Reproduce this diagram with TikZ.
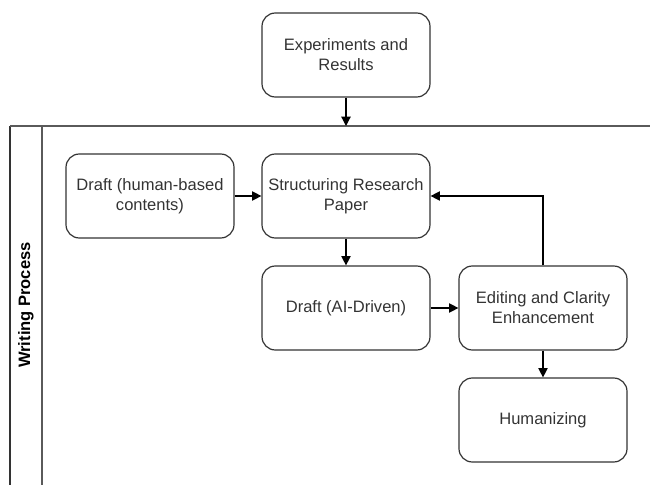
\documentclass[tikz,border=0pt]{standalone}
\usepackage{fontspec}
\setmainfont{Liberation Sans}
\usetikzlibrary{arrows.meta}

\definecolor{boxline}{RGB}{51,51,51}
\definecolor{laneline}{RGB}{90,90,90}

\tikzset{
	stepbox/.style={draw=boxline, rounded corners=10pt, line width=0.9pt, minimum width=126pt, minimum height=63pt, align=center, inner sep=2pt, text=boxline, font=\fontsize{12.4}{15}\selectfont},
	flow/.style={draw=black, line width=0.9pt, -{Triangle[length=7pt,width=7pt]}},
}

\begin{document}
\begin{tikzpicture}[x=0.75pt,y=0.75pt,yscale=-1,xscale=1]
		\useasboundingbox (0,0) rectangle (650,485);
		
		%Pool: Writing Process
		\draw [line width=0.9pt, boxline] (10,485) -- (10,126) ;
		\draw [line width=0.9pt, laneline] (10,126) -- (650,126) ;
		\draw [line width=0.9pt, laneline] (42,126) -- (42,485) ;
		\node [rotate=90, font=\bfseries\fontsize{12.4}{15}\selectfont] (lane) at (26,305) {Writing Process};
		
		% Boxes
		\node [stepbox] (exp) at (346,55) {Experiments and\\Results};
		\coordinate (pooltop) at (346,126);
		\node [stepbox] (hdraft) at (150,196) {Draft (human-based\\contents)};
		\node [stepbox] (struct) at (346,196) {Structuring Research\\Paper};
		\node [stepbox] (aidraft) at (346,308) {Draft (AI-Driven)};
		\node [stepbox] (edit) at (543,308) {Editing and Clarity\\Enhancement};
		\node [stepbox] (human) at (543,420) {Humanizing};
		
		% Connectors
		\draw [flow] (exp) -- (pooltop) ;
		\draw [flow] (hdraft) -- (struct) ;
		\draw [flow] (struct) -- (aidraft) ;
		\draw [flow] (aidraft) -- (edit) ;
		\draw [flow] (edit) -- (human) ;
		\draw [flow] (edit.north) |- (struct.east) ;
		
\end{tikzpicture}
\end{document}
